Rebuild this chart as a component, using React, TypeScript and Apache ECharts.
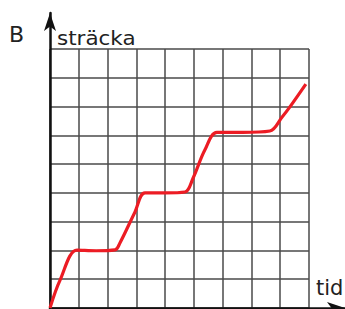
import React, { useEffect, useRef } from "react";
import * as echarts from "echarts";

const xValues = [0, 0.35, 0.94, 1.6, 2.26, 2.43, 2.95, 3.3, 4.0, 4.69, 4.97, 5.38, 5.8, 6.7, 7.64, 8.06, 8.33, 8.89];
const yValues = [0, 0.97, 2.01, 1.99, 2.02, 2.26, 3.33, 4.0, 4.0, 4.03, 4.51, 5.49, 6.1, 6.1, 6.15, 6.63, 6.98, 7.78];
const yAxisName = "sträcka";
const xAxisName = "tid";
const chartLabel = "B";

export default function App() {
  const ref = useRef<HTMLDivElement>(null);
  useEffect(() => {
    const chart = echarts.init(ref.current!, null, { renderer: "svg" });
    const data = xValues.map((x, i) => [x, yValues[i]]);
    const gridLine = { show: true, lineStyle: { color: "#4a4a4a", width: 1.5 } };
    chart.setOption({
      animation: false,
      backgroundColor: "#fff",
      grid: [
        { left: 50, top: 49, width: 259, height: 259, containLabel: false },
        { left: 50, top: 13, width: 300, height: 295, containLabel: false },
      ],
      xAxis: [
        {
          type: "value", gridIndex: 0, min: 0, max: 9, interval: 1,
          axisLine: { show: false }, axisTick: { show: false }, axisLabel: { show: false },
          splitLine: gridLine,
        },
        {
          type: "value", gridIndex: 1, min: 0, max: 1,
          axisLine: { show: true, lineStyle: { color: "#111", width: 2.5 }, symbol: ["none", "arrow"], symbolSize: [9, 18] },
          axisTick: { show: false }, axisLabel: { show: false }, splitLine: { show: false },
        },
      ],
      yAxis: [
        {
          type: "value", gridIndex: 0, min: 0, max: 9, interval: 1,
          axisLine: { show: false }, axisTick: { show: false }, axisLabel: { show: false },
          splitLine: gridLine,
        },
        {
          type: "value", gridIndex: 1, min: 0, max: 1,
          axisLine: { show: true, lineStyle: { color: "#111", width: 2.5 }, symbol: ["none", "arrow"], symbolSize: [9, 18] },
          axisTick: { show: false }, axisLabel: { show: false }, splitLine: { show: false },
        },
      ],
      graphic: [
        { type: "text", x: 9, y: 23, style: { text: chartLabel, font: "22px 'DejaVu Sans'", fill: "#222" } },
        { type: "text", x: 57, y: 29, scaleX: 1.13, style: { text: yAxisName, font: "19px 'DejaVu Sans'", fill: "#222" } },
        { type: "text", x: 316, y: 277, style: { text: xAxisName, font: "21px 'DejaVu Sans'", fill: "#222" } },
      ],
      series: [
        {
          type: "line", xAxisIndex: 0, yAxisIndex: 0, data, smooth: 0.35, showSymbol: false,
          lineStyle: { color: "#ec1c24", width: 3.2 },
        },
      ],
    });
    return () => chart.dispose();
  }, []);
  return <div ref={ref} style={{ position: "fixed", left: 0, top: 0, width: 345, height: 309 }} />;
}
